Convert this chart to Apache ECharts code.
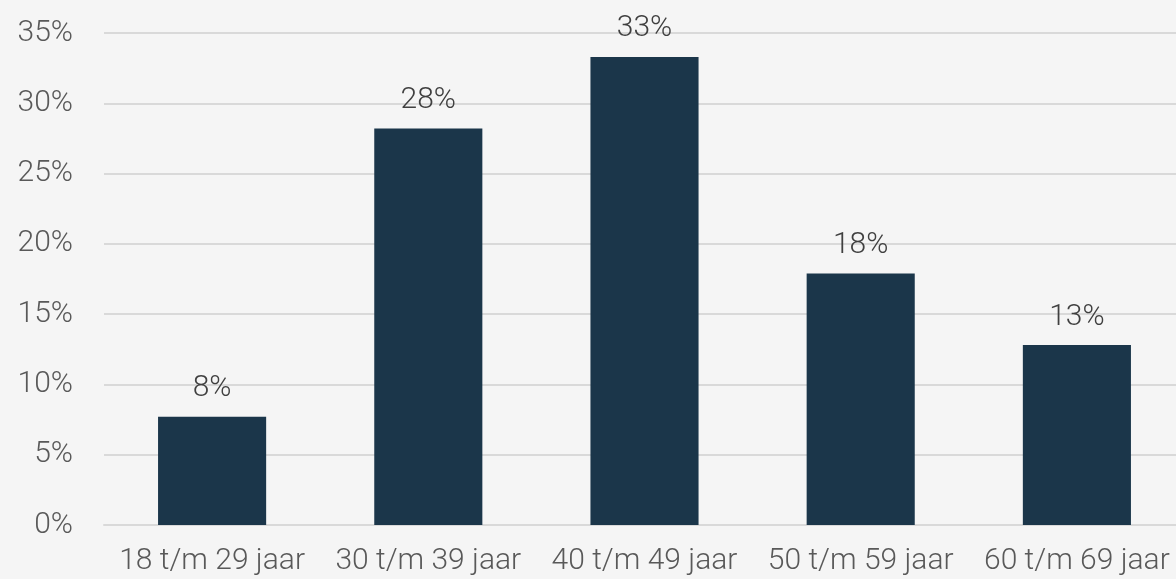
<!DOCTYPE html>
<html>
<head>
<meta charset="utf-8">
<script src="https://cdn.jsdelivr.net/npm/echarts@6/dist/echarts.min.js"></script>
<style>
html,body{margin:0;padding:0;background:#f5f5f5;}
#c{width:1176px;height:579px;}
</style>
</head>
<body>
<div id="c"></div>
<script>
const categories = ['18 t/m 29 jaar', '30 t/m 39 jaar', '40 t/m 49 jaar', '50 t/m 59 jaar', '60 t/m 69 jaar'];
const values = [7.7, 28.2, 33.3, 17.9, 12.8];
const labels = ['8%', '28%', '33%', '18%', '13%'];
const yTicks = [0, 5, 10, 15, 20, 25, 30, 35];

const FONT = 'Roboto';
const chart = echarts.init(document.getElementById('c'), null, {renderer: 'canvas'});
chart.setOption({
  backgroundColor: '#f5f5f5',
  animation: false,
  grid: {left: 104, right: -9, top: 33, bottom: 54, containLabel: false, outerBoundsMode: 'none'},
  xAxis: {
    type: 'category',
    data: categories,
    axisLine: {show: true, lineStyle: {color: '#d9d9d9', width: 2}},
    axisTick: {show: false},
    axisLabel: {color: '#595959', fontFamily: FONT, fontWeight: 300, fontSize: 30, margin: 21, interval: 0}
  },
  yAxis: {
    type: 'value',
    min: yTicks[0],
    max: yTicks[yTicks.length - 1],
    interval: 5,
    axisLine: {show: false},
    axisTick: {show: false},
    splitLine: {lineStyle: {color: '#d9d9d9', width: 2}},
    axisLabel: {color: '#595959', fontFamily: FONT, fontWeight: 300, fontSize: 30, margin: 31, formatter: v => v + '%'}
  },
  series: [{
    type: 'bar',
    data: values,
    barWidth: '50%',
    itemStyle: {color: '#1b364a'},
    label: {
      show: true,
      position: 'top',
      distance: 13,
      color: '#404040',
      fontFamily: FONT,
      fontWeight: 300,
      fontSize: 30,
      formatter: p => labels[p.dataIndex]
    }
  }]
});
</script>
</body>
</html>
